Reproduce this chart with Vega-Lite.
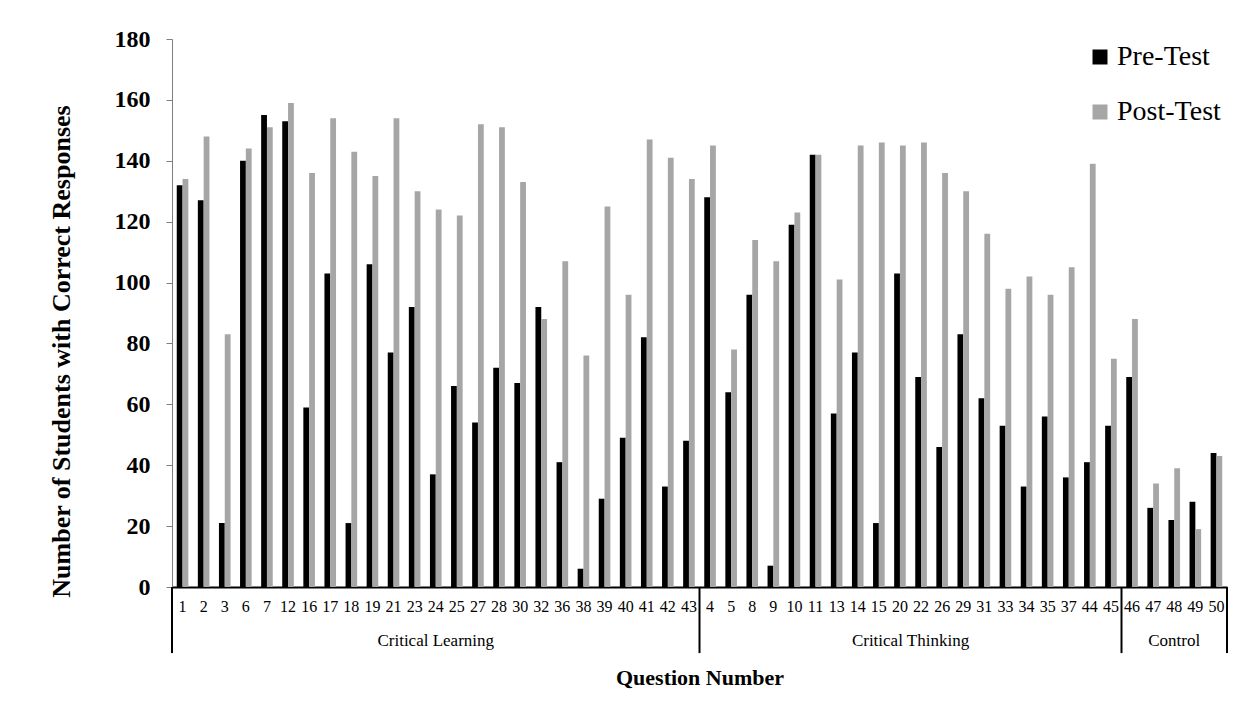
{
  "$schema": "https://vega.github.io/schema/vega-lite/v6.json",
  "width": 1055,
  "height": 548,
  "autosize": {"type": "none"},
  "padding": {"left": 172, "top": 39, "right": 13, "bottom": 127},
  "background": "white",
  "config": {"font": "Liberation Serif", "view": {"stroke": null}, "text": {"font": "Liberation Serif"}, "legend": {"labelFont": "Liberation Serif"}, "axis": {"labelFont": "Liberation Serif", "titleFont": "Liberation Serif"}},
  "datasets": {
    "scores": [
      {"q": "1", "group": "Critical Learning", "Pre-Test": 132, "Post-Test": 134},
      {"q": "2", "group": "Critical Learning", "Pre-Test": 127, "Post-Test": 148},
      {"q": "3", "group": "Critical Learning", "Pre-Test": 21, "Post-Test": 83},
      {"q": "6", "group": "Critical Learning", "Pre-Test": 140, "Post-Test": 144},
      {"q": "7", "group": "Critical Learning", "Pre-Test": 155, "Post-Test": 151},
      {"q": "12", "group": "Critical Learning", "Pre-Test": 153, "Post-Test": 159},
      {"q": "16", "group": "Critical Learning", "Pre-Test": 59, "Post-Test": 136},
      {"q": "17", "group": "Critical Learning", "Pre-Test": 103, "Post-Test": 154},
      {"q": "18", "group": "Critical Learning", "Pre-Test": 21, "Post-Test": 143},
      {"q": "19", "group": "Critical Learning", "Pre-Test": 106, "Post-Test": 135},
      {"q": "21", "group": "Critical Learning", "Pre-Test": 77, "Post-Test": 154},
      {"q": "23", "group": "Critical Learning", "Pre-Test": 92, "Post-Test": 130},
      {"q": "24", "group": "Critical Learning", "Pre-Test": 37, "Post-Test": 124},
      {"q": "25", "group": "Critical Learning", "Pre-Test": 66, "Post-Test": 122},
      {"q": "27", "group": "Critical Learning", "Pre-Test": 54, "Post-Test": 152},
      {"q": "28", "group": "Critical Learning", "Pre-Test": 72, "Post-Test": 151},
      {"q": "30", "group": "Critical Learning", "Pre-Test": 67, "Post-Test": 133},
      {"q": "32", "group": "Critical Learning", "Pre-Test": 92, "Post-Test": 88},
      {"q": "36", "group": "Critical Learning", "Pre-Test": 41, "Post-Test": 107},
      {"q": "38", "group": "Critical Learning", "Pre-Test": 6, "Post-Test": 76},
      {"q": "39", "group": "Critical Learning", "Pre-Test": 29, "Post-Test": 125},
      {"q": "40", "group": "Critical Learning", "Pre-Test": 49, "Post-Test": 96},
      {"q": "41", "group": "Critical Learning", "Pre-Test": 82, "Post-Test": 147},
      {"q": "42", "group": "Critical Learning", "Pre-Test": 33, "Post-Test": 141},
      {"q": "43", "group": "Critical Learning", "Pre-Test": 48, "Post-Test": 134},
      {"q": "4", "group": "Critical Thinking", "Pre-Test": 128, "Post-Test": 145},
      {"q": "5", "group": "Critical Thinking", "Pre-Test": 64, "Post-Test": 78},
      {"q": "8", "group": "Critical Thinking", "Pre-Test": 96, "Post-Test": 114},
      {"q": "9", "group": "Critical Thinking", "Pre-Test": 7, "Post-Test": 107},
      {"q": "10", "group": "Critical Thinking", "Pre-Test": 119, "Post-Test": 123},
      {"q": "11", "group": "Critical Thinking", "Pre-Test": 142, "Post-Test": 142},
      {"q": "13", "group": "Critical Thinking", "Pre-Test": 57, "Post-Test": 101},
      {"q": "14", "group": "Critical Thinking", "Pre-Test": 77, "Post-Test": 145},
      {"q": "15", "group": "Critical Thinking", "Pre-Test": 21, "Post-Test": 146},
      {"q": "20", "group": "Critical Thinking", "Pre-Test": 103, "Post-Test": 145},
      {"q": "22", "group": "Critical Thinking", "Pre-Test": 69, "Post-Test": 146},
      {"q": "26", "group": "Critical Thinking", "Pre-Test": 46, "Post-Test": 136},
      {"q": "29", "group": "Critical Thinking", "Pre-Test": 83, "Post-Test": 130},
      {"q": "31", "group": "Critical Thinking", "Pre-Test": 62, "Post-Test": 116},
      {"q": "33", "group": "Critical Thinking", "Pre-Test": 53, "Post-Test": 98},
      {"q": "34", "group": "Critical Thinking", "Pre-Test": 33, "Post-Test": 102},
      {"q": "35", "group": "Critical Thinking", "Pre-Test": 56, "Post-Test": 96},
      {"q": "37", "group": "Critical Thinking", "Pre-Test": 36, "Post-Test": 105},
      {"q": "44", "group": "Critical Thinking", "Pre-Test": 41, "Post-Test": 139},
      {"q": "45", "group": "Critical Thinking", "Pre-Test": 53, "Post-Test": 75},
      {"q": "46", "group": "Control", "Pre-Test": 69, "Post-Test": 88},
      {"q": "47", "group": "Control", "Pre-Test": 26, "Post-Test": 34},
      {"q": "48", "group": "Control", "Pre-Test": 22, "Post-Test": 39},
      {"q": "49", "group": "Control", "Pre-Test": 28, "Post-Test": 19},
      {"q": "50", "group": "Control", "Pre-Test": 44, "Post-Test": 43}
    ],
    "groupStarts": [{"q": "1"}, {"q": "4"}, {"q": "46"}],
    "groupEnds": [{"q": "50"}],
    "labelsCentered": [{"q": "24", "label": "Critical Learning"}, {"q": "48", "label": "Control"}],
    "labelsBoundary": [{"q": "22", "label": "Critical Thinking"}]
  },
  "layer": [
    {
      "data": {"name": "scores"},
      "transform": [{"fold": ["Pre-Test", "Post-Test"], "as": ["test", "value"]}],
      "mark": {"type": "bar"},
      "encoding": {
        "x": {
          "field": "q", "type": "nominal", "title": "Question Number",
          "scale": {
            "domain": ["1","2","3","6","7","12","16","17","18","19","21","23","24","25","27","28","30","32","36","38","39","40","41","42","43","4","5","8","9","10","11","13","14","15","20","22","26","29","31","33","34","35","37","44","45","46","47","48","49","50"],
            "paddingInner": 0.45, "paddingOuter": 0.225
          },
          "axis": {
            "labelAngle": 0, "labelFontSize": 16, "labelPadding": 11, "labelOverlap": false,
            "labelFont": "Liberation Serif", "titleFont": "Liberation Serif",
            "ticks": false, "domainColor": "black", "domainWidth": 2, "labelColor": "black",
            "titleFontSize": 22, "titleFontWeight": "bold", "titleColor": "black", "titlePadding": 53
          }
        },
        "xOffset": {"field": "test", "type": "nominal", "sort": ["Pre-Test", "Post-Test"]},
        "y": {
          "field": "value", "type": "quantitative", "title": "Number of Students with Correct Responses",
          "scale": {"domain": [0, 180]},
          "axis": {
            "values": [0, 20, 40, 60, 80, 100, 120, 140, 160, 180], "grid": false,
            "labelFont": "Liberation Serif", "titleFont": "Liberation Serif",
            "domainColor": "#7f7f7f", "tickColor": "#7f7f7f", "tickSize": 6, "labelPadding": 16,
            "labelFontSize": 24, "labelFontWeight": "bold", "labelColor": "black",
            "titleFontSize": 26, "titleFontWeight": "bold", "titleColor": "black",
            "titleX": -111, "titleY": 312, "titleAngle": -90, "titleAlign": "center", "titleBaseline": "middle"
          }
        },
        "color": {
          "field": "test", "type": "nominal",
          "scale": {"domain": ["Pre-Test", "Post-Test"], "range": ["#000000", "#a6a6a6"]},
          "legend": {
            "orient": "none", "legendX": 914, "legendY": 4, "title": null, "padding": 0,
            "symbolType": "square", "symbolSize": 225, "symbolStrokeWidth": 0,
            "labelFont": "Liberation Serif",
            "labelFontSize": 28, "labelColor": "black", "labelOffset": 3, "rowPadding": 27
          }
        }
      }
    },
    {
      "data": {"name": "groupStarts"},
      "mark": {"type": "rule", "color": "black", "strokeWidth": 2},
      "encoding": {
        "x": {"field": "q", "type": "nominal", "title": "Question Number", "bandPosition": -0.409},
        "y": {"datum": 0, "type": "quantitative"},
        "y2": {"datum": -21.7}
      }
    },
    {
      "data": {"name": "groupEnds"},
      "mark": {"type": "rule", "color": "black", "strokeWidth": 2},
      "encoding": {
        "x": {"field": "q", "type": "nominal", "title": "Question Number", "bandPosition": 1.409},
        "y": {"datum": 0, "type": "quantitative"},
        "y2": {"datum": -21.7}
      }
    },
    {
      "data": {"name": "labelsCentered"},
      "mark": {"type": "text", "font": "Liberation Serif", "fontSize": 17, "color": "black", "baseline": "middle", "align": "center"},
      "encoding": {
        "x": {"field": "q", "type": "nominal", "title": "Question Number", "bandPosition": 0.5},
        "y": {"datum": -17.7, "type": "quantitative"},
        "text": {"field": "label"}
      }
    },
    {
      "data": {"name": "labelsBoundary"},
      "mark": {"type": "text", "font": "Liberation Serif", "fontSize": 17, "color": "black", "baseline": "middle", "align": "center"},
      "encoding": {
        "x": {"field": "q", "type": "nominal", "title": "Question Number", "bandPosition": -0.409},
        "y": {"datum": -17.7, "type": "quantitative"},
        "text": {"field": "label"}
      }
    }
  ]
}
